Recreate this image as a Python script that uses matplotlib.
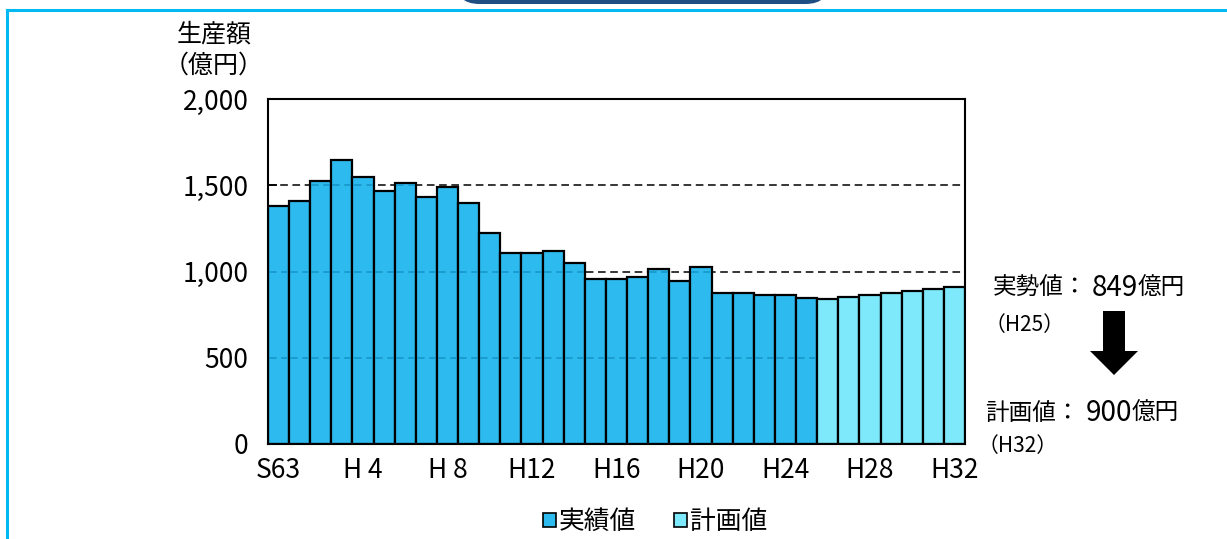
import matplotlib
matplotlib.use("Agg")
import matplotlib.pyplot as plt
from matplotlib.patches import Patch, FancyBboxPatch, FancyArrow
from matplotlib.lines import Line2D

plt.rcParams["font.family"] = ["Noto Sans CJK JP", "DejaVu Sans"]
NARROW = ["Liberation Sans Narrow", "Noto Sans CJK JP", "DejaVu Sans"]

# 生産額（億円）, S63 .. H32
actual_years = ["S63"] + [f"H{i}" for i in range(1, 26)]
actual_values = [1381, 1407, 1523, 1648, 1546, 1465, 1513, 1430, 1488, 1397,
                 1223, 1105, 1105, 1119, 1049, 955, 955, 968, 1014, 945,
                 1026, 875, 875, 862, 862, 849]
plan_years = [f"H{i}" for i in range(26, 33)]
plan_values = [839, 850, 863, 875, 887, 898, 910]

tick_labels = ["S63", "H 4", "H 8", "H12", "H16", "H20", "H24", "H28", "H32"]
y_ticks = [0, 500, 1000, 1500, 2000]
y_ticklabels = ["0", "500", "1,000", "1,500", "2,000"]

dark = "#2DBAEE"
light = "#7DE9FB"

W, H = 1227, 539
fig = plt.figure(figsize=(W / 100, H / 100), dpi=100)

# outer frame and title tab
fig.add_artist(Line2D([7 / W, 7 / W], [0, 1 - 10 / H], color="#00B9F2", lw=2.2))
fig.add_artist(Line2D([7 / W, 1], [1 - 10 / H, 1 - 10 / H], color="#00B9F2", lw=2.2))
fig.add_artist(FancyBboxPatch((455 / W, 1 - 4 / H), 375 / W, 30 / H,
                              boxstyle="round,pad=0,rounding_size=0.02",
                              transform=fig.transFigure, fc="#1F4E83", ec="none",
                              mutation_aspect=W / H))

ax = fig.add_axes([268 / W, 1 - 444 / H, 697 / W, 345 / H])

n_act = len(actual_values)
x_act = list(range(n_act))
x_plan = list(range(n_act, n_act + len(plan_values)))

for y in (500, 1000, 1500):
    ax.axhline(y, color="black", lw=1.1, ls=(0, (5, 3)), zorder=0)

ax.bar(x_act, actual_values, width=1.0, color=dark, edgecolor="black", lw=1.6, zorder=2)
ax.bar(x_plan, plan_values, width=1.0, color=light, edgecolor="black", lw=1.6, zorder=2)

# gridlines show through the actual bars in a darker blue
seg_y, seg_x0, seg_x1 = [], [], []
for x, v in zip(x_act, actual_values):
    for y in (500, 1000, 1500):
        if y < v:
            seg_y.append(y)
            seg_x0.append(x - 0.45)
            seg_x1.append(x + 0.45)
ax.hlines(seg_y, seg_x0, seg_x1, colors="#1594C6", lw=1.1, ls=(0, (5, 3)), zorder=3)

ax.set_xlim(-0.5, n_act + len(plan_values) - 0.5)
ax.set_ylim(0, 2000)
ax.set_xticks(range(0, n_act + len(plan_values), 4))
ax.set_xticklabels(tick_labels, fontsize=19, family=NARROW)
ax.set_yticks(y_ticks)
ax.set_yticklabels(y_ticklabels, fontsize=19, family=NARROW)
ax.tick_params(axis="x", length=0, pad=9)
ax.tick_params(axis="y", direction="in", length=6.5, width=1.3, pad=14)
for s in ax.spines.values():
    s.set_linewidth(1.5)
    s.set_zorder(4)

fig.text(214 / W, 1 - 34 / H, "生産額", fontsize=18, ha="center", va="center")
fig.text(214 / W, 1 - 66 / H, "（億円）", fontsize=18, ha="center", va="center")

handles = [Patch(facecolor=dark, edgecolor="black", lw=1.2, label="実績値"),
           Patch(facecolor=light, edgecolor="black", lw=1.2, label="計画値")]
fig.legend(handles=handles, loc="center", bbox_to_anchor=(655 / W, 1 - 522 / H),
           ncol=2, frameon=False, fontsize=18.5, handlelength=0.5, handleheight=0.5,
           handletextpad=0.1, columnspacing=1.5)

# annotation on the right
fig.text(993 / W, 1 - 288 / H, "実勢値：", fontsize=17, ha="left", va="center")
fig.text(1092 / W, 1 - 288 / H, "849", fontsize=20, ha="left", va="center", family=NARROW)
fig.text(1138 / W, 1 - 288 / H, "億円", fontsize=17, ha="left", va="center")
fig.text(985 / W, 1 - 325 / H, "（H25）", fontsize=15, ha="left", va="center")
fig.text(985 / W, 1 - 413 / H, "計画値：", fontsize=17, ha="left", va="center")
fig.text(1086 / W, 1 - 413 / H, "900", fontsize=20, ha="left", va="center", family=NARROW)
fig.text(1132 / W, 1 - 413 / H, "億円", fontsize=17, ha="left", va="center")
fig.text(978 / W, 1 - 446 / H, "（H32）", fontsize=15, ha="left", va="center")
fig.add_artist(FancyArrow(1114 / W, 1 - 311 / H, 0, -64 / H, width=22 / W,
                          head_width=48 / W, head_length=24 / H,
                          length_includes_head=True, transform=fig.transFigure,
                          fc="black", ec="none"))

fig.savefig("out.png", dpi=100)
